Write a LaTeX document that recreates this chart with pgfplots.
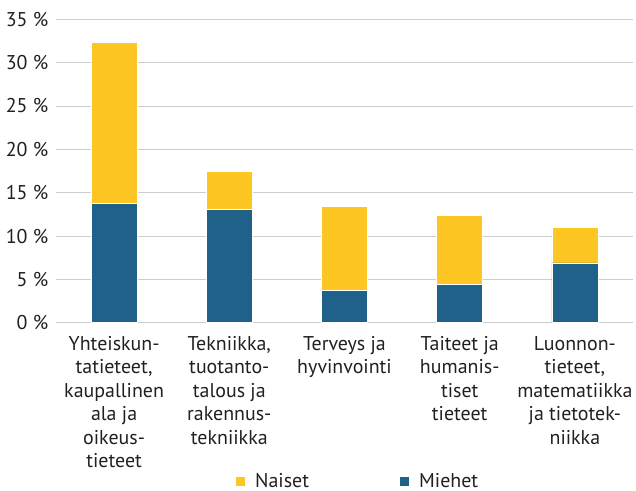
\documentclass[border=0pt]{standalone}
\usepackage{pgfplots}
\pgfplotsset{compat=1.18}
\usepackage{fontspec}
\setmainfont{PT Sans}
\definecolor{naiset}{RGB}{253,198,35}
\definecolor{miehet}{RGB}{31,97,137}
\definecolor{txt}{RGB}{35,31,32}
\definecolor{gridc}{RGB}{205,205,208}
\pgfplotstableread{
x miehet naiset
0 13.73 18.67
1 13.08 4.42
2 3.77 9.66
3 4.43 7.99
4 6.89 4.07
}\data
\begin{document}
\begin{tikzpicture}
\begin{axis}[
  scale only axis,
  width=576bp, height=303.4bp,
  xmin=-0.5, xmax=4.5,
  ymin=0, ymax=35,
  ybar stacked,
  bar width=46bp,
  axis line style={draw=none},
  major tick length=0pt,
  ymajorgrids,
  grid style={gridc, line width=0.9bp},
  ytick={0,5,10,15,20,25,30,35},
  yticklabels={0~\%,5~\%,10~\%,15~\%,20~\%,25~\%,30~\%,35~\%},
  xtick={0,1,2,3,4},
  xticklabels={
    {\strut Yhteiskun-\\tatieteet,\\kaupallinen\\ala ja\\oikeus-\\tieteet},
    {\strut Tekniikka,\\tuotanto-\\talous ja\\rakennus-\\tekniikka},
    {\strut Terveys ja\\hyvinvointi},
    {\strut Taiteet ja\\humanis-\\tiset\\tieteet},
    {\strut Luonnon-\\tieteet,\\matematiikka\\ja tietotek-\\niikka}},
  every tick label/.append style={font=\fontsize{20}{23.6}\selectfont, text=txt},
  xticklabel style={align=center, anchor=north, inner sep=0pt, yshift=-10.8bp},
  yticklabel style={anchor=east, inner sep=0pt, xshift=-8bp},
  reverse legend,
  legend columns=2,
  legend style={at={(rel axis cs:0.3116,-0.5234)}, anchor=west, draw=none, fill=none,
    inner sep=0pt, font=\fontsize{20}{24}\selectfont, text=txt,
    /tikz/column sep=10bp, nodes={inner sep=0pt}},
  legend image code/.code={\fill[#1,draw=none] (0bp,-4.5bp) rectangle (9bp,4.5bp);},
]
\addplot[fill=miehet, draw=white, line width=0.5bp] table[x=x,y=miehet]{\data};
\addplot[fill=naiset, draw=white, line width=0.5bp] table[x=x,y=naiset]{\data};
\legend{Miehet,\makebox[135bp][l]{Naiset}}
\end{axis}
\pgfresetboundingbox
\path (-56.5bp,-168.3bp) rectangle (579.5bp,322.7bp);
\end{tikzpicture}
\end{document}
